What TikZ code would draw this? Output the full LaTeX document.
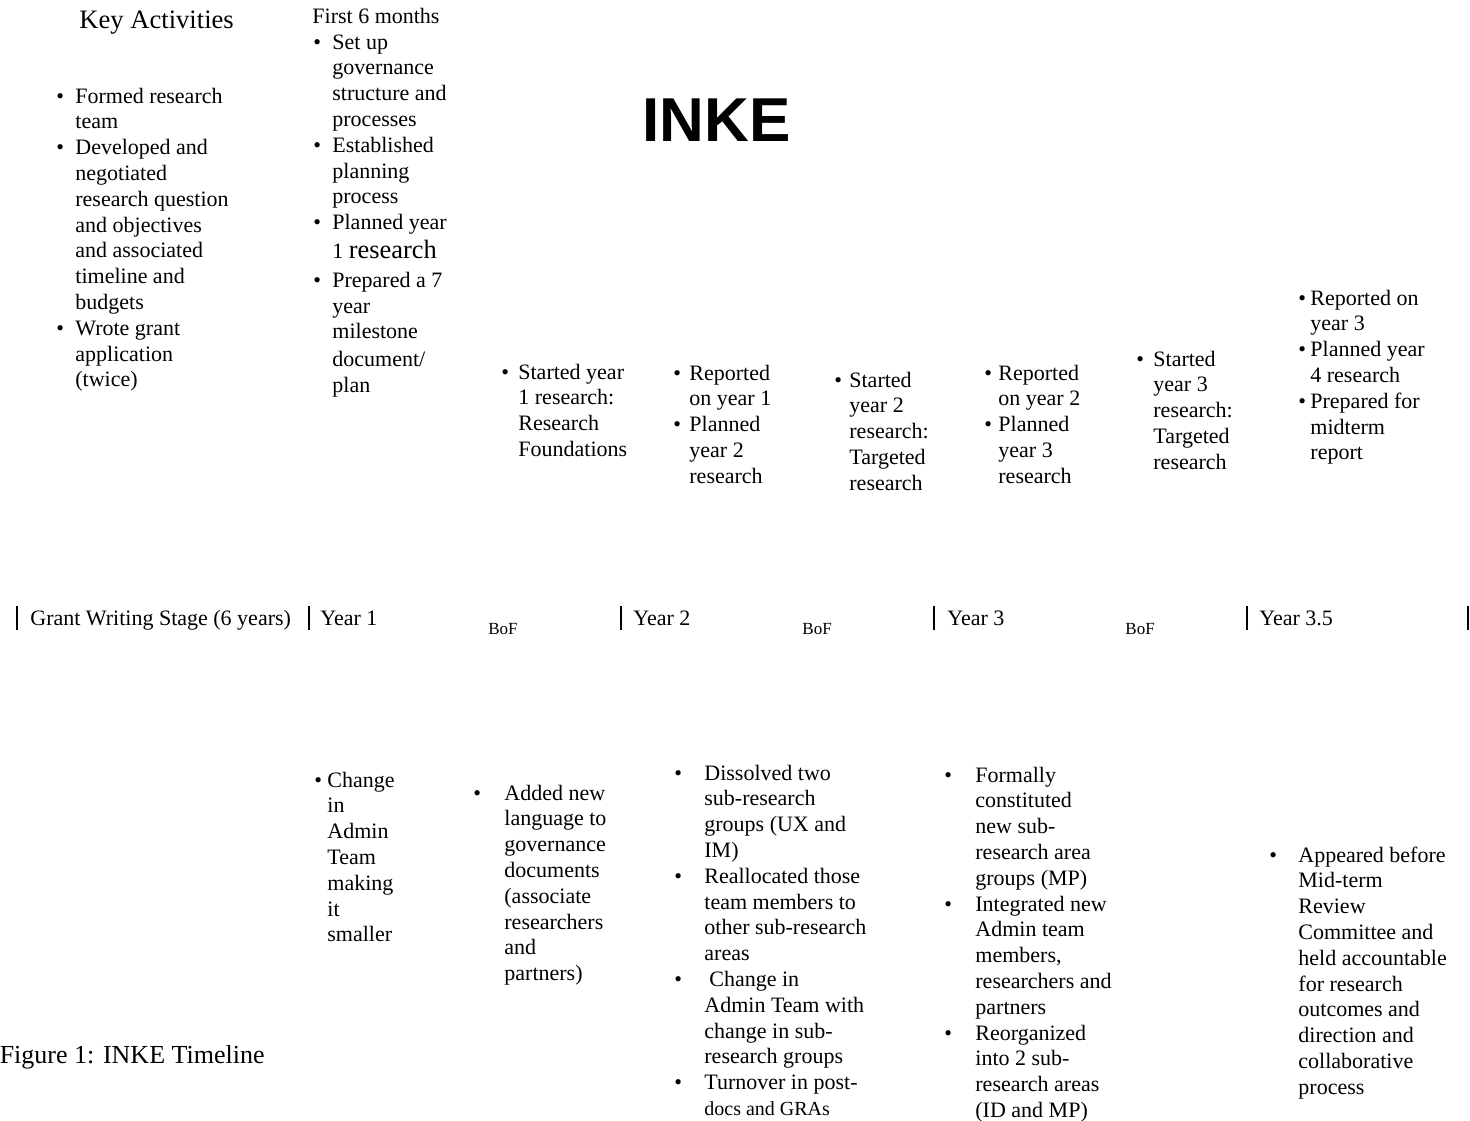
\documentclass[tikz,border=0pt]{standalone}
\usepackage{fontspec}
\setmainfont{Liberation Serif}
\newfontfamily\titlefont{Liberation Sans}
\usetikzlibrary{positioning}

\newlength{\bulw}
\newcommand{\bl}{\makebox[\bulw][l]{\textbullet}}
\newcommand{\blist}[2]{\setlength{\bulw}{#1}\begin{tabular}[t]{@{}l@{}l@{}}#2\end{tabular}}

\tikzset{
	txt/.style={anchor=base west, inner sep=0pt, font=\fontsize{11}{12.9}\selectfont},
	head/.style={txt, font=\fontsize{13.3}{15}\selectfont},
	bof/.style={txt, font=\fontsize{8.5}{10}\selectfont},
	tick/.style={line width=1pt},
}

\begin{document}
\begin{tikzpicture}[x=0.5pt, y=-0.5pt]
	\useasboundingbox (0,0) rectangle (1470,1120);

	% headings
	\node[head]	(keyhead)	at (79,28)	{Key Activities};
	\node[txt]	(sixhead)	at (312,23)	{First 6 months};
	\node[txt, font=\titlefont\bfseries\fontsize{31}{36}\selectfont]	(inke)	at (642,141)	{INKE};
	\node[head, anchor=base east, font=\fontsize{13}{15}\selectfont]	(caption)	at (265,1063)	{Figure 1: INKE Timeline};

	% grant writing stage and first six months
	\node[txt]	(keylist)	at (56,103)	{\blist{9.5pt}{
		\bl & Formed research\\
		& team\\
		\bl & Developed and\\
		& negotiated\\
		& research question\\
		& and objectives\\
		& and associated\\
		& timeline and\\
		& budgets\\
		\bl & Wrote grant\\
		& application\\
		& (twice)}};
	\node[txt]	(sixlist)	at (313,49)	{\blist{9.5pt}{
		\bl & Set up\\
		& governance\\
		& structure and\\
		& processes\\
		\bl & Established\\
		& planning\\
		& process\\
		\bl & Planned year\\[1.3pt]
		& 1 {\fontsize{13.2}{14}\selectfont research}\\[1.6pt]
		\bl & Prepared a 7\\
		& year\\
		& milestone\\[1pt]
		& document/\\
		& plan}};

	% research milestones above the line
	\node[txt]	(startone)	at (501,379)	{\blist{8.5pt}{
		\bl & Started year\\
		& 1 research:\\
		& Research\\
		& Foundations}};
	\node[txt]	(reportone)	at (673,380)	{\blist{8pt}{
		\bl & Reported\\
		& on year 1\\
		\bl & Planned\\
		& year 2\\
		& research}};
	\node[txt]	(starttwo)	at (834,387)	{\blist{7.5pt}{
		\bl & Started\\
		& year 2\\
		& research:\\
		& Targeted\\
		& research}};
	\node[txt]	(reporttwo)	at (984,380)	{\blist{7pt}{
		\bl & Reported\\
		& on year 2\\
		\bl & Planned\\
		& year 3\\
		& research}};
	\node[txt]	(startthree)	at (1136,366)	{\blist{8.5pt}{
		\bl & Started\\
		& year 3\\
		& research:\\
		& Targeted\\
		& research}};
	\node[txt]	(reportthree)	at (1298,305)	{\blist{6pt}{
		\bl & Reported on\\
		& year 3\\
		\bl & Planned year\\
		& 4 research\\
		\bl & Prepared for\\
		& midterm\\
		& report}};

	% the timeline
	\foreach \x in {17,309,621,934,1247,1468}
		\draw[tick] (\x,606) -- (\x,630);
	\node[txt]	(grant)	at (30,625)	{Grant Writing Stage (6 years)};
	\node[txt]	(yrone)	at (320,625)	{Year 1};
	\node[txt]	(yrtwo)	at (633,625)	{Year 2};
	\node[txt]	(yrthree)	at (947,625)	{Year 3};
	\node[txt]	(yrhalf)	at (1259,625)	{Year 3.5};
	\node[bof]	(bofone)	at (488,634)	{BoF};
	\node[bof]	(boftwo)	at (802,634)	{BoF};
	\node[bof]	(bofthree)	at (1125,634)	{BoF};

	% governance changes below the line
	\node[txt]	(adminone)	at (314,787)	{\blist{6.5pt}{
		\bl & Change\\
		& in\\
		& Admin\\
		& Team\\
		& making\\
		& it\\
		& smaller}};
	\node[txt]	(language)	at (473,800)	{\blist{15.5pt}{
		\bl & Added new\\
		& language to\\
		& governance\\
		& documents\\
		& (associate\\
		& researchers\\
		& and\\
		& partners)}};
	\node[txt]	(dissolved)	at (674,780)	{\blist{15pt}{
		\bl & Dissolved two\\
		& sub-research\\
		& groups (UX and\\
		& IM)\\
		\bl & Reallocated those\\
		& team members to\\
		& other sub-research\\
		& areas\\
		\bl & \hspace{2.5pt}Change in\\
		& Admin Team with\\
		& change in sub-\\
		& research groups\\
		\bl & Turnover in post-\\
		& {\fontsize{10}{12.9}\selectfont docs and GRAs}}};
	\node[txt]	(formally)	at (944,782)	{\blist{15.5pt}{
		\bl & Formally\\
		& constituted\\
		& new sub-\\
		& research area\\
		& groups (MP)\\
		\bl & Integrated new\\
		& Admin team\\
		& members,\\
		& researchers and\\
		& partners\\
		\bl & Reorganized\\
		& into 2 sub-\\
		& research areas\\
		& (ID and MP)}};
	\node[txt]	(midterm)	at (1269,862)	{\blist{14.5pt}{
		\bl & Appeared before\\
		& Mid-term\\
		& Review\\
		& Committee and\\
		& held accountable\\
		& for research\\
		& outcomes and\\
		& direction and\\
		& collaborative\\
		& process}};

\end{tikzpicture}
\end{document}
